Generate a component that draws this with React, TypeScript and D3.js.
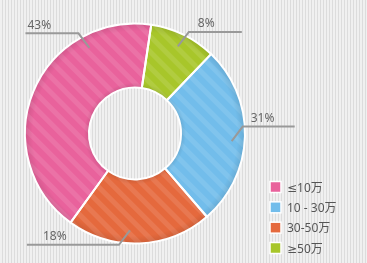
import React from "react";
import * as d3 from "d3";

const categories = ["≤10万", "10 - 30万", "30-50万", "≥50万"];
const shares = [42.4, 26.5, 21.3, 9.8];
const percentLabels = ["43%", "31%", "18%", "8%"];
const colors = ["#e9629c", "#72bdeb", "#e5693d", "#a8c62a"];
const drawOrder = [3, 1, 2, 0];

const W = 367;
const H = 263;
const cx = 135;
const cy = 133.5;
const outerR = 110;
const innerR = 46;
const startDeg = 8.5;

// label layout: anchor angle (deg), horizontal dir, vertical dir, line length, text offset from elbow
const labelLayout = [
  { angle: 332, sx: -1, sy: -1, len: 53, tx: -51 },
  { angle: 94.5, sx: 1, sy: -1, len: 52, tx: 8 },
  { angle: 183, sx: -1, sy: 1, len: 92, tx: -76 },
  { angle: 26.2, sx: 1, sy: -1, len: 53, tx: 9 },
];

const rad = (d: number) => (d * Math.PI) / 180;

export default function App() {
  const pie = d3
    .pie<number>()
    .value((i) => shares[i])
    .sort((a, b) => drawOrder.indexOf(a) - drawOrder.indexOf(b))
    .startAngle(rad(startDeg))
    .endAngle(rad(startDeg) + Math.PI * 2);
  const arcs = pie(categories.map((_, i) => i));
  const arcGen = d3
    .arc<d3.PieArcDatum<number>>()
    .innerRadius(innerR)
    .outerRadius(outerR);

  const legendY = d3
    .scalePoint<string>()
    .domain(categories)
    .range([187, 248]);

  const font = "'Noto Sans', 'DejaVu Sans', 'Noto Sans CJK SC', sans-serif";

  return (
    <div style={{ position: "fixed", left: 0, top: 0, width: W, height: H }}>
      <svg width={W} height={H} style={{ display: "block" }}>
        <defs>
          <pattern id="bg" width={3} height={10} patternUnits="userSpaceOnUse">
            <rect width={3} height={10} fill="#f0f0f0" />
            <rect x={2} width={1} height={10} fill="#dcdcdc" />
          </pattern>
          <pattern
            id="stripes"
            width={11}
            height={11}
            patternUnits="userSpaceOnUse"
            patternTransform="rotate(-45)"
          >
            <rect width={5} height={11} fill="#ffffff" opacity={0.1} />
          </pattern>
          <radialGradient
            id="rim"
            gradientUnits="userSpaceOnUse"
            cx={0}
            cy={0}
            r={outerR}
          >
            <stop offset={innerR / outerR} stopColor="#000" stopOpacity={0.1} />
            <stop offset={(innerR + 5) / outerR} stopColor="#000" stopOpacity={0} />
            <stop offset={0.93} stopColor="#000" stopOpacity={0} />
            <stop offset={1} stopColor="#000" stopOpacity={0.1} />
          </radialGradient>
        </defs>
        <rect width={W} height={H} fill="url(#bg)" />
        <g transform={`translate(${cx},${cy})`}>
          {arcs.map((a) => (
            <g key={a.data}>
              <path d={arcGen(a) || ""} fill={colors[a.data]} />
              <path d={arcGen(a) || ""} fill="url(#stripes)" />
              <path d={arcGen(a) || ""} fill="url(#rim)" />
            </g>
          ))}
          {arcs.map((a) => (
            <path
              key={"s" + a.data}
              d={arcGen(a) || ""}
              fill="none"
              stroke="#fff"
              strokeWidth={2}
            />
          ))}
        </g>
        {categories.map((_, i) => {
          const L = labelLayout[i];
          const r = 97;
          const ax = cx + r * Math.sin(rad(L.angle));
          const ay = cy - r * Math.cos(rad(L.angle));
          const ex = ax + L.sx * 11;
          const ey = ay + L.sy * 14.5;
          const endX = ex + L.sx * L.len;
          return (
            <g key={"l" + i}>
              <polyline
                points={`${ax},${ay} ${ex},${ey} ${endX},${ey}`}
                fill="none"
                stroke="#999"
                strokeWidth={2}
              />
              <text
                x={ex + L.tx}
                y={ey - 4.5}
                fontFamily={font}
                fontSize={12}
                fill="#666"
              >
                {percentLabels[i]}
              </text>
            </g>
          );
        })}
        {categories.map((c, i) => {
          const y = legendY(c) as number;
          return (
            <g key={"g" + i}>
              <rect
                x={270}
                y={y - 5.5}
                width={11}
                height={11}
                fill={colors[i]}
                stroke="#fff"
                strokeWidth={1.5}
              />
              <text
                x={287}
                y={y + 4.5}
                fontFamily={font}
                fontSize={12}
                fill="#555"
              >
                {c}
              </text>
            </g>
          );
        })}
      </svg>
    </div>
  );
}
